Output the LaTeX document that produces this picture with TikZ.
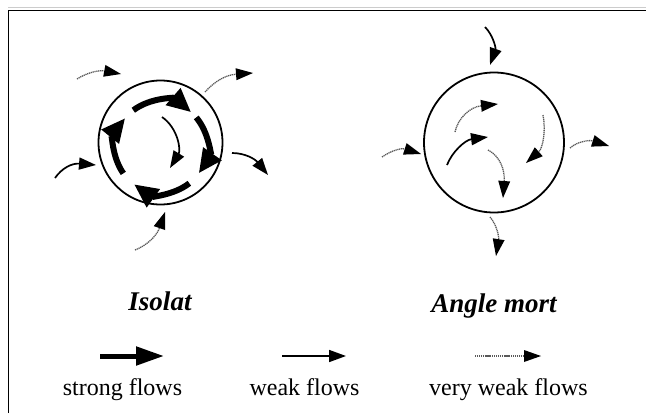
\documentclass[tikz,border=0pt]{standalone}
\usepackage{fontspec}
\setmainfont{Liberation Serif}
\usetikzlibrary{arrows.meta,calc}
\begin{document}
\begin{tikzpicture}[x=1pt,y=-1pt,
  strongflow/.style={line width=6pt,-{Triangle[length=24pt,width=21pt]}},
  weakflow/.style={line width=1.7pt,-{Triangle[length=17pt,width=12pt]}},
  vweakflow/.style={line width=1.3pt,draw=black!65,dash pattern=on 1.2pt off 0.7pt,
     -{Triangle[length=17pt,width=12pt,color=black,fill=black,line width=0pt]}},
  ring/.style={circle,draw,line width=1.8pt,inner sep=0pt},
  title/.style={font=\fontsize{27}{30}\selectfont\bfseries\itshape,anchor=base,inner sep=0pt},
  legtext/.style={font=\fontsize{24}{28}\selectfont,anchor=base,inner sep=0pt}]
\useasboundingbox (0,0) rectangle (646,413);
% frame
\draw[black!20,line width=0.8pt] (8,7.5) -- (646,7.5);
\draw[line width=1pt] (8,413) -- (8,10) -- (646,10);

% ---------- Isolat ----------
\node[ring,minimum size=124pt] (L) at (160.5,142.5) {};
\coordinate (Lc) at (161,147);
\draw[strongflow] ($(Lc)+(-127:46)$) arc[start angle=-127,end angle=-49,radius=46];
\draw[strongflow] ($(Lc)+(-40:46)$) arc[start angle=-40,end angle=35,radius=46];
\draw[strongflow] ($(Lc)+(52:46)$) arc[start angle=52,end angle=126,radius=46];
\draw[strongflow] ($(Lc)+(145:46)$) arc[start angle=145,end angle=219,radius=46];
% inner weak
\coordinate (Li1) at (162,117); \coordinate (Li2) at (170,168);
\draw[weakflow] (Li1) .. controls (178,128) and (181,150) .. (Li2);
% outside
\coordinate (La1) at (77,79);  \coordinate (La2) at (121,74);
\draw[vweakflow] (La1) .. controls (88,72) and (100,70) .. (La2);
\coordinate (Lb1) at (205,92); \coordinate (Lb2) at (253,73);
\draw[vweakflow] (Lb1) .. controls (214,82) and (225,75) .. (Lb2);
\coordinate (Lc1) at (232,153); \coordinate (Lc2) at (268,175);
\draw[weakflow] (Lc1) .. controls (245,153) and (255,159) .. (Lc2);
\coordinate (Ld1) at (55,178); \coordinate (Ld2) at (96,165);
\draw[weakflow] (Ld1) .. controls (62,168) and (72,163) .. (Ld2);
\coordinate (Le1) at (135,250); \coordinate (Le2) at (165,212);
\draw[vweakflow] (Le1) .. controls (148,245) and (157,235) .. (Le2);
\node[title] (tL) at (160,310) {Isolat};

% ---------- Angle mort ----------
\node[ring,minimum size=140pt] (R) at (494,142.5) {};
\coordinate (Ra1) at (485,27); \coordinate (Ra2) at (490,65);
\draw[weakflow] (Ra1) .. controls (493,35) and (496,48) .. (Ra2);
\coordinate (Rb1) at (382,157); \coordinate (Rb2) at (421,154);
\draw[vweakflow] (Rb1) .. controls (392,150) and (402,148) .. (Rb2);
\coordinate (Rc1) at (570,148); \coordinate (Rc2) at (609,146);
\draw[vweakflow] (Rc1) .. controls (578,141) and (590,140) .. (Rc2);
\coordinate (Rd1) at (490,217); \coordinate (Rd2) at (496,256);
\draw[vweakflow] (Rd1) .. controls (497,225) and (499,237) .. (Rd2);
\coordinate (Re1) at (455,132); \coordinate (Re2) at (498,104);
\draw[vweakflow] (Re1) .. controls (458,118) and (470,107) .. (Re2);
\coordinate (Rf1) at (447,165); \coordinate (Rf2) at (488,137);
\draw[weakflow] (Rf1) .. controls (452,152) and (465,140) .. (Rf2);
\coordinate (Rg1) at (488,150); \coordinate (Rg2) at (503,198);
\draw[vweakflow] (Rg1) .. controls (500,156) and (505,170) .. (Rg2);
\coordinate (Rh1) at (543,115); \coordinate (Rh2) at (526,163);
\draw[vweakflow] (Rh1) .. controls (546,130) and (543,148) .. (Rh2);
\node[title] (tR) at (494,312) {Angle mort};

% ---------- legend ----------
\coordinate (s1) at (100,356); \coordinate (s2) at (164,356);
\draw[line width=5pt,-{Triangle[length=28pt,width=18pt]}] (s1) -- (s2);
\coordinate (w1) at (282,356); \coordinate (w2) at (346,356);
\draw[weakflow] (w1) -- (w2);
\coordinate (v1) at (475,356); \coordinate (v2) at (541,356);
\draw[vweakflow] (v1) -- (v2);
\node[legtext] (ts) at (122.5,395) {strong flows};
\node[legtext] (tw) at (304.5,395) {weak flows};
\node[legtext] (tv) at (508.5,395) {very weak flows};
\end{tikzpicture}
\end{document}
